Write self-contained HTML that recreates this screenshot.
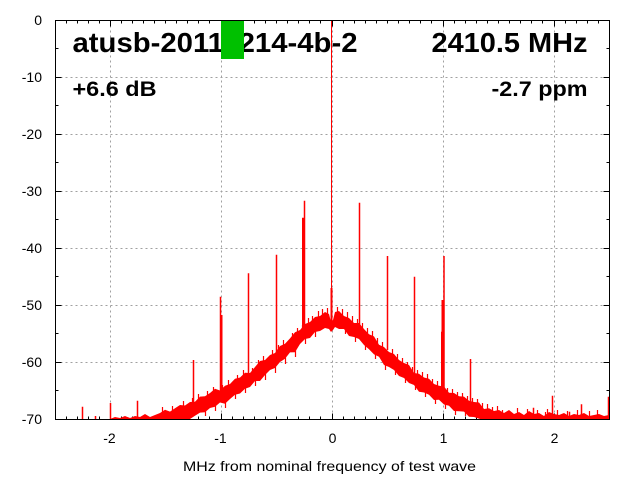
<!DOCTYPE html>
<html>
<head>
<meta charset="utf-8">
<style>
html,body{margin:0;padding:0;background:#fff;}
svg{display:block;}
text{font-family:"Liberation Sans",Arial,sans-serif;}
</style>
</head>
<body>
<svg width="640" height="480" viewBox="0 0 640 480" xmlns="http://www.w3.org/2000/svg">
<rect x="0" y="0" width="640" height="480" fill="#fff"/>

<!-- grid -->
<g stroke="#a0a0a0" stroke-width="1" stroke-dasharray="2,3" fill="none">
  <path d="M55.5 77.5H609.5 M55.5 134.5H609.5 M55.5 191.5H609.5 M55.5 248.5H609.5 M55.5 305.5H609.5 M55.5 362.5H609.5"/>
  <path d="M110.5 20.5V419.5 M221.5 20.5V419.5 M332.5 20.5V419.5 M443.5 20.5V419.5 M554.5 20.5V419.5"/>
</g>

<!-- ticks -->
<g stroke="#000" stroke-width="1" fill="none">
  <path d="M55.5 77.5h6 M55.5 134.5h6 M55.5 191.5h6 M55.5 248.5h6 M55.5 305.5h6 M55.5 362.5h6
           M609.5 77.5h-6 M609.5 134.5h-6 M609.5 191.5h-6 M609.5 248.5h-6 M609.5 305.5h-6 M609.5 362.5h-6"/>
  <path d="M55.5 48.5h3 M55.5 105.5h3 M55.5 162.5h3 M55.5 219.5h3 M55.5 276.5h3 M55.5 333.5h3 M55.5 390.5h3
           M609.5 48.5h-3 M609.5 105.5h-3 M609.5 162.5h-3 M609.5 219.5h-3 M609.5 276.5h-3 M609.5 333.5h-3 M609.5 390.5h-3"/>
  <path d="M110.5 419.5v-6 M221.5 419.5v-6 M332.5 419.5v-6 M443.5 419.5v-6 M554.5 419.5v-6
           M110.5 20.5v6 M221.5 20.5v6 M332.5 20.5v6 M443.5 20.5v6 M554.5 20.5v6"/>
  <path d="M66.5 419.5v-3 M77.5 419.5v-3 M88.5 419.5v-3 M99.5 419.5v-3 M121.5 419.5v-3 M132.5 419.5v-3 M143.5 419.5v-3 M154.5 419.5v-3 M165.5 419.5v-3 M176.5 419.5v-3 M187.5 419.5v-3 M198.5 419.5v-3 M209.5 419.5v-3 M232.5 419.5v-3 M243.5 419.5v-3 M254.5 419.5v-3 M265.5 419.5v-3 M276.5 419.5v-3 M287.5 419.5v-3 M298.5 419.5v-3 M309.5 419.5v-3 M320.5 419.5v-3 M343.5 419.5v-3 M354.5 419.5v-3 M365.5 419.5v-3 M376.5 419.5v-3 M387.5 419.5v-3 M398.5 419.5v-3 M409.5 419.5v-3 M420.5 419.5v-3 M431.5 419.5v-3 M454.5 419.5v-3 M465.5 419.5v-3 M476.5 419.5v-3 M487.5 419.5v-3 M498.5 419.5v-3 M509.5 419.5v-3 M520.5 419.5v-3 M531.5 419.5v-3 M542.5 419.5v-3 M565.5 419.5v-3 M576.5 419.5v-3 M587.5 419.5v-3 M598.5 419.5v-3"/>
  <path d="M66.5 20.5v3 M77.5 20.5v3 M88.5 20.5v3 M99.5 20.5v3 M121.5 20.5v3 M132.5 20.5v3 M143.5 20.5v3 M154.5 20.5v3 M165.5 20.5v3 M176.5 20.5v3 M187.5 20.5v3 M198.5 20.5v3 M209.5 20.5v3 M232.5 20.5v3 M243.5 20.5v3 M254.5 20.5v3 M265.5 20.5v3 M276.5 20.5v3 M287.5 20.5v3 M298.5 20.5v3 M309.5 20.5v3 M320.5 20.5v3 M343.5 20.5v3 M354.5 20.5v3 M365.5 20.5v3 M376.5 20.5v3 M387.5 20.5v3 M398.5 20.5v3 M409.5 20.5v3 M420.5 20.5v3 M431.5 20.5v3 M454.5 20.5v3 M465.5 20.5v3 M476.5 20.5v3 M487.5 20.5v3 M498.5 20.5v3 M509.5 20.5v3 M520.5 20.5v3 M531.5 20.5v3 M542.5 20.5v3 M565.5 20.5v3 M576.5 20.5v3 M587.5 20.5v3 M598.5 20.5v3"/>
</g>

<!-- noise band -->
<path fill="#ff0000" d="
M110 419 L115 417 L120 418 L125 416 L130 418 L135 416 L140 417 L145 414 L150 417 L155 415
L160 413 L165 409.8 L170 411.6 L175 408.3 L180 405 L185 405.5 L190 402 L195 401.8 L200 396.6
L205 396.3 L210 393 L215 388.7 L220 390.5 L225 385.7 L230 384 L235 378.7 L240 377.5 L245 372.7
L250 373 L255 367 L260 361 L265 360 L270 355 L275 353 L280 346 L285 343.7 L290 338.4 L295 332.2
L300 330 L305 324 L310 322 L315 317 L320 316 L325 312 L329 314 L331 322 L333 320
L335 312 L339 311 L344 316 L349 318 L354 323 L359 323 L364 329 L369 334.2 L374 336.4 L379 344.7
L384 347 L389 352 L394 354 L399 360 L404 363 L409 365 L414 373 L419 373.7 L424 377.5 L429 378.7
L434 384 L439 385.7 L444 386.5 L449 392.7 L454 393 L459 396.3 L464 396.6 L469 400.8 L474 402
L479 402.5 L484 409 L489 408.3 L494 411 L499 410 L504 413 L509 410 L514 414 L519 412 L524 415
L529 411 L534 414 L539 413 L544 416 L549 412 L554 414 L559 415 L564 413 L569 416 L574 414
L579 415 L584 413 L589 416 L594 415 L599 414 L604 416 L609 415 L609 419
L480 419 L474 417 L469 416.8 L464 411.6 L459 411.3 L454 411 L449 405.7 L444 404.5 L439 399.7
L434 400 L429 394.7 L424 392.5 L419 391.7 L414 385 L409 383 L404 378 L399 376 L394 370
L389 367 L384 365 L379 356.7 L374 354.4 L369 349.2 L364 345 L359 339 L354 337 L349 336
L344 329 L339 329 L335 327 L333 330 L331 332 L329 329 L325 328 L320 331 L315 332 L310 338
L305 339 L300 344 L295 352.2 L290 352.4 L285 358.7 L280 362 L275 368 L270 370 L265 375
L260 381 L255 381 L250 387 L245 388.7 L240 393.5 L235 394.7 L230 399 L225 403.7 L220 402.5
L215 406.7 L210 408 L205 412.3 L200 412.6 L195 415.8 L190 419 Z"/>

<!-- noise texture spikes -->
<g stroke="#ff0000" stroke-width="1.2" fill="none">
<path d="
M162.5 414V407 M172.5 414V406 M183.5 410V401 M192.5 406V398 M198.5 402V394 M207.5 400V391 M213.5 396V387
M222.5 392V385 M228.5 390V380 M237.5 384V375 M243.5 380V370 M252.5 375V368 M258.5 368V360 M263.5 366V356
M272.5 360V350 M278.5 352V345 M283.5 348V340 M292.5 340V333 M297.5 336V328 M302.5 332V325 M308.5 328V318
M312.5 324V316 M318.5 320V311 M322.5 318V309 M327.5 316V308
M337.5 316V307 M342.5 318V309 M347.5 320V312 M352.5 324V316 M357.5 326V319 M362.5 330V323 M367.5 334V328
M372.5 340V331 M377.5 344V338 M382.5 350V342 M392.5 356V349 M397.5 360V354 M402.5 364V358 M407.5 368V362
M412.5 372V367 M417.5 378V370 M422.5 380V372 M427.5 384V374 M432.5 388V379 M437.5 390V381 M447.5 396V388
M452.5 398V389 M457.5 400V392 M462.5 402V393 M467.5 404V396 M472.5 406V398 M477.5 408V399 M482.5 410V403
M487.5 412V404 M492.5 414V407 M497.5 414V406 M502.5 416V410 M517.5 416V408 M527.5 416V409 M537.5 416V410
M547.5 416V409 M557.5 417V410 M567.5 417V411 M577.5 417V410 M597.5 417V410 M589.5 417V411 M545.5 417V412
M205.5 408V416 M215.5 404V411 M225.5 400V408 M235.5 392V399 M245.5 386V393 M255.5 378V386 M265.5 372V380
M275.5 366V373 M285.5 356V364 M295.5 348V357 M305.5 336V344 M315.5 330V337 M345.5 328V334 M355.5 335V342
M365.5 343V350 M375.5 352V359 M385.5 362V370 M395.5 368V375 M405.5 376V383 M415.5 383V390 M425.5 390V397
M435.5 398V404 M445.5 402V409 M455.5 408V415 M465.5 410V416"/>
</g>

<!-- spurs -->
<g stroke="#ff0000" fill="none">
  <path stroke-width="1.5" d="
M82.5 419V406.7 M95.5 419V416 M110.5 419V403 M137.5 419V400.7
M193.5 408V360 M220.5 398V296.7 M248.5 380V273.3 M276.5 356V254.7
M304.5 336V200.7 M359.5 330V202.7 M387.5 350V256 M414.5 375V276.7
M444 395V256 M470.5 408V359 M552.5 419V395.7 M581.5 419V404.3 M608.5 419V396.7
M510.5 419V412 M533.5 419V407.7 M569.5 419V411.7"/>
  <path stroke-width="2" d="M221.5 398V315 M303 336V217.7 M442.5 395V300 M331.5 330V288"/>
  <path stroke-width="3" d="M442.5 395V331.7"/>
  <path stroke-width="1" d="M331.5 330V20.5"/>
</g>

<!-- border -->
<rect x="55.5" y="20.5" width="554" height="399" fill="none" stroke="#000" stroke-width="1"/>

<!-- y labels -->
<g font-size="14" fill="#000" text-anchor="end">
  <text x="42" y="25">0</text>
  <text x="42" y="82">-10</text>
  <text x="42" y="139">-20</text>
  <text x="42" y="196">-30</text>
  <text x="42" y="253">-40</text>
  <text x="42" y="310">-50</text>
  <text x="42" y="367">-60</text>
  <text x="42" y="424">-70</text>
</g>
<!-- x labels -->
<g font-size="14" fill="#000" text-anchor="middle">
  <text x="109.5" y="443">-2</text>
  <text x="220.5" y="443">-1</text>
  <text x="332.5" y="443">0</text>
  <text x="443.5" y="443">1</text>
  <text x="554.5" y="443">2</text>
</g>
<text x="183" y="471" font-size="14" fill="#000" textLength="293" lengthAdjust="spacingAndGlyphs">MHz from nominal frequency of test wave</text>

<!-- overlay labels -->
<text x="72.5" y="52" font-size="28" font-weight="bold" fill="#000" textLength="285" lengthAdjust="spacingAndGlyphs">atusb-20111214-4b-2</text>
<text x="431.5" y="52" font-size="28" font-weight="bold" fill="#000" textLength="156" lengthAdjust="spacingAndGlyphs">2410.5 MHz</text>
<text x="72.5" y="96" font-size="21" font-weight="bold" fill="#000" textLength="84" lengthAdjust="spacingAndGlyphs">+6.6 dB</text>
<text x="491.5" y="96" font-size="21" font-weight="bold" fill="#000" textLength="96" lengthAdjust="spacingAndGlyphs">-2.7 ppm</text>

<!-- green marker -->
<rect x="221" y="21" width="23" height="38" fill="#00c000"/>
</svg>
</body>
</html>
